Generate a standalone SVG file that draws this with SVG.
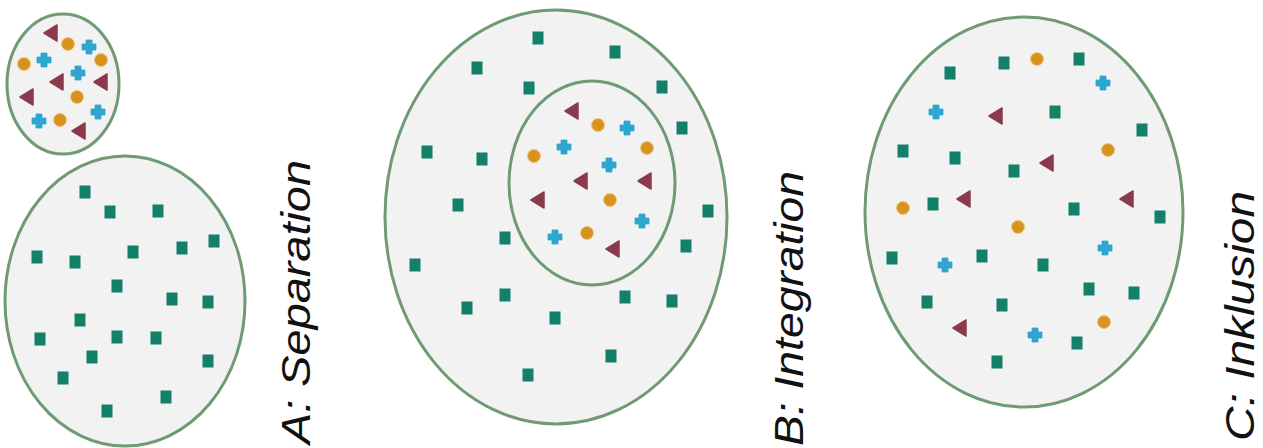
<svg xmlns="http://www.w3.org/2000/svg" xmlns:xlink="http://www.w3.org/1999/xlink" width="1263" height="448" viewBox="0 0 1263 448">
<style>
.set{fill:#f2f2f2;stroke:#6f9a74;stroke-width:3}
.inner{fill:none;stroke:#6f9a74;stroke-width:3}
.lbl{font-family:"Liberation Sans",Arial,sans-serif;font-style:italic;font-size:40px;fill:#111}
</style>
<defs>
<rect id="sq" x="-5.5" y="-6.5" width="11" height="13" fill="#13806a"/>
<polygon id="tr" points="-7,0 6,-8 6,8" fill="#8b3a4d" stroke="#8b3a4d" stroke-width="1.5" stroke-linejoin="round"/>
<circle id="ci" r="6.5" fill="#d8921e" stroke="#f0c77a" stroke-width="1"/>
<path id="cr" d="M-3,-7H3V-3H7V3H3V7H-3V3H-7V-3H-3Z" fill="#2ea6cf" stroke="#2ea6cf" stroke-width="0.8" stroke-linejoin="round"/>
</defs>
<rect width="1263" height="448" fill="#ffffff"/>

<g id="setA-minority">
<ellipse class="set" cx="63" cy="84" rx="56" ry="70"/>
<use href="#tr" x="51" y="33"/>
<use href="#ci" x="68" y="44"/>
<use href="#cr" x="89" y="47"/>
<use href="#ci" x="24" y="64"/>
<use href="#cr" x="44" y="60"/>
<use href="#ci" x="101" y="60"/>
<use href="#cr" x="78" y="73"/>
<use href="#tr" x="57" y="82"/>
<use href="#tr" x="101" y="82"/>
<use href="#tr" x="27" y="97"/>
<use href="#ci" x="77" y="97"/>
<use href="#cr" x="39" y="121"/>
<use href="#ci" x="60" y="120"/>
<use href="#cr" x="98" y="112"/>
<use href="#tr" x="79" y="131"/>
</g>

<g id="setA-majority">
<ellipse class="set" cx="125" cy="301" rx="120" ry="145"/>
<use href="#sq" x="85" y="192"/>
<use href="#sq" x="110" y="212"/>
<use href="#sq" x="158" y="211"/>
<use href="#sq" x="37" y="257"/>
<use href="#sq" x="75" y="262"/>
<use href="#sq" x="133" y="252"/>
<use href="#sq" x="182" y="248"/>
<use href="#sq" x="214" y="241"/>
<use href="#sq" x="117" y="286"/>
<use href="#sq" x="172" y="299"/>
<use href="#sq" x="208" y="302"/>
<use href="#sq" x="80" y="320"/>
<use href="#sq" x="40" y="339"/>
<use href="#sq" x="117" y="337"/>
<use href="#sq" x="156" y="338"/>
<use href="#sq" x="92" y="357"/>
<use href="#sq" x="208" y="361"/>
<use href="#sq" x="63" y="378"/>
<use href="#sq" x="166" y="397"/>
<use href="#sq" x="107" y="411"/>
</g>

<g id="labelA">
<text class="lbl" transform="translate(310,444) rotate(-90)" textLength="284" lengthAdjust="spacingAndGlyphs">A: Separation</text>
</g>

<g id="setB">
<ellipse class="set" cx="556" cy="217" rx="171" ry="207"/>
<ellipse class="inner" cx="592" cy="183" rx="83" ry="102"/>
<use href="#sq" x="538" y="38"/>
<use href="#sq" x="615" y="52"/>
<use href="#sq" x="477" y="68"/>
<use href="#sq" x="529" y="88"/>
<use href="#sq" x="662" y="87"/>
<use href="#sq" x="682" y="128"/>
<use href="#sq" x="427" y="152"/>
<use href="#sq" x="482" y="159"/>
<use href="#sq" x="708" y="211"/>
<use href="#sq" x="458" y="205"/>
<use href="#sq" x="505" y="238"/>
<use href="#sq" x="686" y="246"/>
<use href="#sq" x="415" y="265"/>
<use href="#sq" x="505" y="295"/>
<use href="#sq" x="467" y="308"/>
<use href="#sq" x="555" y="318"/>
<use href="#sq" x="625" y="297"/>
<use href="#sq" x="672" y="301"/>
<use href="#sq" x="611" y="356"/>
<use href="#sq" x="528" y="375"/>
<use href="#tr" x="572" y="111"/>
<use href="#ci" x="598" y="125"/>
<use href="#cr" x="627" y="128"/>
<use href="#cr" x="564" y="147"/>
<use href="#ci" x="647" y="148"/>
<use href="#ci" x="534" y="156"/>
<use href="#cr" x="609" y="165"/>
<use href="#tr" x="581" y="181"/>
<use href="#tr" x="645" y="181"/>
<use href="#ci" x="610" y="200"/>
<use href="#tr" x="538" y="200"/>
<use href="#cr" x="642" y="221"/>
<use href="#cr" x="555" y="237"/>
<use href="#ci" x="587" y="233"/>
<use href="#tr" x="613" y="249"/>
</g>

<g id="labelB">
<text class="lbl" transform="translate(803,446) rotate(-90)" textLength="275" lengthAdjust="spacingAndGlyphs">B: Integration</text>
</g>

<g id="setC">
<ellipse class="set" cx="1024" cy="212" rx="159" ry="195"/>
<use href="#sq" x="950" y="73"/>
<use href="#sq" x="1004" y="63"/>
<use href="#ci" x="1037" y="59"/>
<use href="#sq" x="1079" y="59"/>
<use href="#cr" x="1103" y="83"/>
<use href="#cr" x="936" y="112"/>
<use href="#tr" x="996" y="116"/>
<use href="#sq" x="1055" y="112"/>
<use href="#sq" x="1142" y="130"/>
<use href="#sq" x="903" y="151"/>
<use href="#sq" x="955" y="158"/>
<use href="#ci" x="1108" y="150"/>
<use href="#sq" x="1014" y="171"/>
<use href="#tr" x="1047" y="163"/>
<use href="#ci" x="903" y="208"/>
<use href="#sq" x="933" y="204"/>
<use href="#tr" x="964" y="199"/>
<use href="#ci" x="1018" y="227"/>
<use href="#sq" x="1074" y="209"/>
<use href="#tr" x="1127" y="199"/>
<use href="#sq" x="1160" y="217"/>
<use href="#sq" x="892" y="258"/>
<use href="#cr" x="945" y="265"/>
<use href="#sq" x="982" y="256"/>
<use href="#sq" x="1043" y="265"/>
<use href="#cr" x="1105" y="248"/>
<use href="#sq" x="1089" y="289"/>
<use href="#sq" x="1134" y="293"/>
<use href="#sq" x="927" y="302"/>
<use href="#sq" x="1002" y="305"/>
<use href="#tr" x="960" y="328"/>
<use href="#cr" x="1035" y="335"/>
<use href="#sq" x="1077" y="343"/>
<use href="#ci" x="1104" y="322"/>
<use href="#sq" x="997" y="362"/>
</g>

<g id="labelC">
<text class="lbl" transform="translate(1254,441) rotate(-90)" textLength="250" lengthAdjust="spacingAndGlyphs">C: Inklusion</text>
</g>
</svg>
